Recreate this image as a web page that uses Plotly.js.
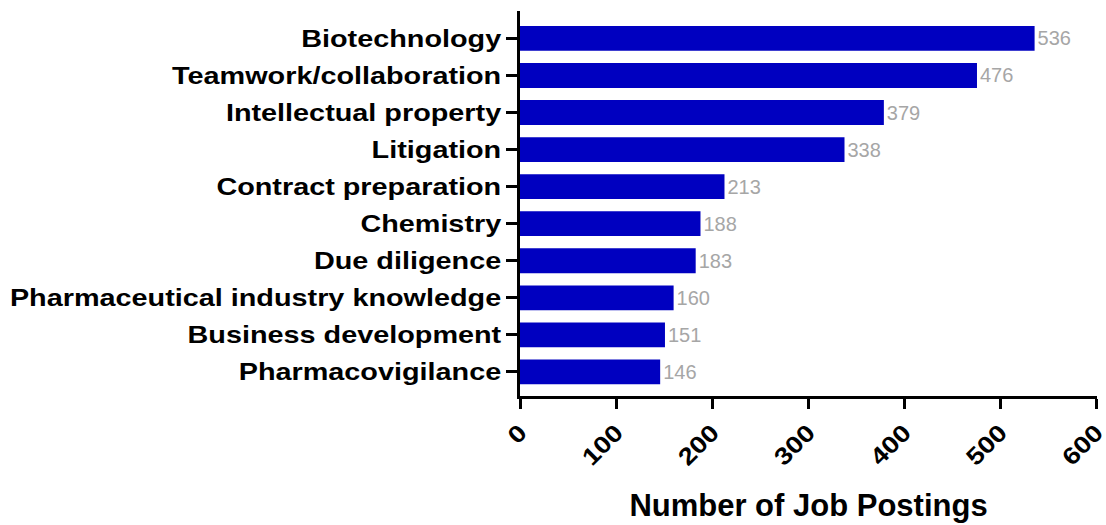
<!DOCTYPE html>
<html>
<head>
<meta charset="utf-8">
<script src="https://cdn.plot.ly/plotly-3.0.1.min.js"></script>
<style>html,body{margin:0;padding:0;background:#fff;}#chart{width:1106px;height:525px;}</style>
</head>
<body>
<div id="chart"></div>
<script>
const skills = [
  "Biotechnology",
  "Teamwork/collaboration",
  "Intellectual property",
  "Litigation",
  "Contract preparation",
  "Chemistry",
  "Due diligence",
  "Pharmaceutical industry knowledge",
  "Business development",
  "Pharmacovigilance"
];
const postings = [536, 476, 379, 338, 213, 188, 183, 160, 151, 146];
const xTicks = [0, 100, 200, 300, 400, 500, 600];
const xTitle = "Number of Job Postings";

const cats = skills.slice().reverse();
const vals = postings.slice().reverse();
const FONT = 'Liberation Sans, Arial, sans-serif';

const trace = {
  type: 'bar',
  orientation: 'h',
  y: cats,
  x: vals,
  marker: {color: '#0000C0', line: {width: 0}},
  text: vals.map(String),
  textposition: 'outside',
  textfont: {family: FONT, size: 20, color: '#A6A6A6'},
  cliponaxis: false,
  hoverinfo: 'none'
};

const layout = {
  width: 1106,
  height: 525,
  margin: {l: 520, r: 9, t: 11, b: 129, pad: 0},
  paper_bgcolor: '#fff',
  plot_bgcolor: '#fff',
  bargap: 0.33,
  showlegend: false,
  font: {family: FONT, color: '#000'},
  xaxis: {
    range: [0, 601],
    tickvals: xTicks,
    ticktext: xTicks.map(String),
    tickangle: -45,
    ticklabeloverflow: 'allow',
    ticks: 'outside',
    ticklen: 10,
    tickwidth: 3,
    tickcolor: '#000',
    showline: true,
    linewidth: 3,
    linecolor: '#000',
    showgrid: false,
    zeroline: false,
    tickfont: {family: FONT, size: 24, color: '#000', weight: 'bold'},
    title: {text: '<b>' + xTitle + '</b>', font: {family: FONT, size: 31, color: '#000'}, standoff: 30}
  },
  yaxis: {
    type: 'category',
    range: [-0.65, 9.74],
    ticks: 'outside',
    ticklen: 11,
    tickwidth: 3,
    tickcolor: '#000',
    showline: true,
    linewidth: 3,
    linecolor: '#000',
    showgrid: false,
    zeroline: false,
    tickfont: {family: FONT, size: 24, color: '#000', weight: 'bold'}
  }
};

function stretch(sel, k) {
  document.querySelectorAll(sel).forEach(function (t) {
    const w = t.getComputedTextLength();
    t.setAttribute('textLength', (w * k).toFixed(1));
    t.setAttribute('lengthAdjust', 'spacingAndGlyphs');
  });
}

Plotly.newPlot('chart', [trace], layout, {displayModeBar: false, staticPlot: true}).then(function () {
  // reference labels are drawn horizontally wider than Arial proportions
  stretch('.ytick text', 1.2);
  stretch('.xtick text', 1.15);
});
</script>
</body>
</html>
